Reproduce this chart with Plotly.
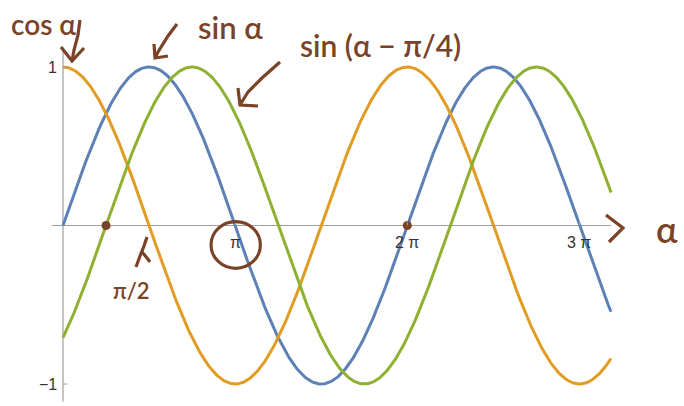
import numpy as np
import plotly.graph_objects as go

# Sample points of the angle α (radians) and the three curves
alpha = np.linspace(0, 10, 600)
curves = {
    "sin α": np.sin(alpha),
    "cos α": np.cos(alpha),
    "sin(α − π/4)": np.sin(alpha - np.pi / 4),
}
curve_colors = {
    "sin α": "#5E81B5",
    "cos α": "#E19C24",
    "sin(α − π/4)": "#8FB131",
}

# Axis ticks
x_tick_vals = [np.pi, 2 * np.pi, 3 * np.pi]
x_tick_text = ["π", "2 π", "3 π"]
y_tick_vals = [1, -1]
y_tick_text = ["1", "−1"]

# Marked points on the α axis
marked_x = [np.pi / 4, 2 * np.pi]
marked_y = [0, 0]

INK = "#7A4327"
AXIS = "#A0A0A0"
W, H = 684, 406

fig = go.Figure()

for name, ys in curves.items():
    fig.add_trace(go.Scatter(
        x=alpha, y=ys, mode="lines", name=name,
        line=dict(color=curve_colors[name], width=3),
        hoverinfo="skip",
    ))

fig.add_trace(go.Scatter(
    x=marked_x, y=marked_y, mode="markers",
    marker=dict(color=INK, size=9), hoverinfo="skip",
))

shapes = []
# Axis lines
shapes.append(dict(type="line", xref="x", yref="y", x0=-0.2, x1=10.0, y0=0, y1=0,
                   line=dict(color=AXIS, width=1.2), layer="below"))
shapes.append(dict(type="line", xref="x", yref="y", x0=0, x1=0, y0=-1.11, y1=1.11,
                   line=dict(color=AXIS, width=1.2), layer="below"))
# Tick marks
for v in y_tick_vals:
    shapes.append(dict(type="line", xref="x", yref="y", x0=0, x1=0.08, y0=v, y1=v,
                       line=dict(color=AXIS, width=1)))
for v in x_tick_vals:
    shapes.append(dict(type="line", xref="x", yref="y", x0=v, x1=v, y0=0, y1=0.025,
                       line=dict(color=AXIS, width=1)))
# Circle drawn around the π tick label
shapes.append(dict(type="circle", xref="x", yref="y",
                   x0=np.pi - 0.44, x1=np.pi + 0.46, y0=-0.27, y1=0.025,
                   line=dict(color=INK, width=3.2)))


def px(x, y):
    return x / W, 1 - y / H


def pen(points, width=3.2):
    pts = [px(x, y) for x, y in points]
    d = "M " + " L ".join(f"{a:.5f},{b:.5f}" for a, b in pts)
    return dict(type="path", xref="paper", yref="paper", path=d,
                line=dict(color=INK, width=width))


# Hand-drawn arrows
shapes += [
    # cos α arrow
    pen([(80, 20), (78, 35), (74, 50), (72, 61)]),
    pen([(61, 47), (72, 61), (84, 48)]),
    # sin α arrow
    pen([(177, 24), (168, 36), (158, 52), (155, 58)]),
    pen([(154, 44), (155, 58), (168, 56)]),
    # sin(α − π/4) arrow
    pen([(280, 62), (262, 78), (248, 92), (240, 105)]),
    pen([(238, 88), (240, 105), (258, 106)]),
    # arrow pointing up at π/4
    pen([(136, 267), (140, 256), (144, 246), (147, 237)]),
    pen([(142, 252), (147, 258), (150, 262)]),
    # arrowhead at the end of the α axis
    pen([(606, 215), (623, 228), (609, 242)]),
]

annotations = []
tick_font = dict(family="Liberation Sans", size=16, color="#333")
for v, t in zip(x_tick_vals, x_tick_text):
    annotations.append(dict(x=v, y=0, xref="x", yref="y", text=t, showarrow=False,
                            yshift=-17, font=tick_font))
for v, t in zip(y_tick_vals, y_tick_text):
    annotations.append(dict(x=0, y=v, xref="x", yref="y", text=t, showarrow=False,
                            xanchor="right", xshift=-4, font=tick_font))

hand = "Lato, sans-serif"
labels = [
    ("cos α", 43, 24, 28),
    ("sin α", 230, 27, 31),
    ("sin (α − π/4)", 381, 45, 30),
    ("π/2", 131, 290, 22),
    ("α", 667, 229, 36),
]
for t, x, y, s in labels:
    ax, ay = px(x, y)
    annotations.append(dict(x=ax, y=ay, xref="paper", yref="paper", text=t,
                            showarrow=False, xanchor="center", yanchor="middle",
                            font=dict(family=hand, size=s, color=INK, weight=600)))

x_per_px = 1 / 54.8
y_per_px = 1 / 158.5
fig.update_layout(
    width=W, height=H,
    margin=dict(l=0, r=0, t=0, b=0),
    paper_bgcolor="white", plot_bgcolor="white",
    showlegend=False,
    xaxis=dict(range=[-63 * x_per_px, (W - 63) * x_per_px], visible=False),
    yaxis=dict(range=[-(H - 225.5) * y_per_px, 225.5 * y_per_px], visible=False),
    shapes=shapes,
    annotations=annotations,
)

fig.write_html("out.html")
